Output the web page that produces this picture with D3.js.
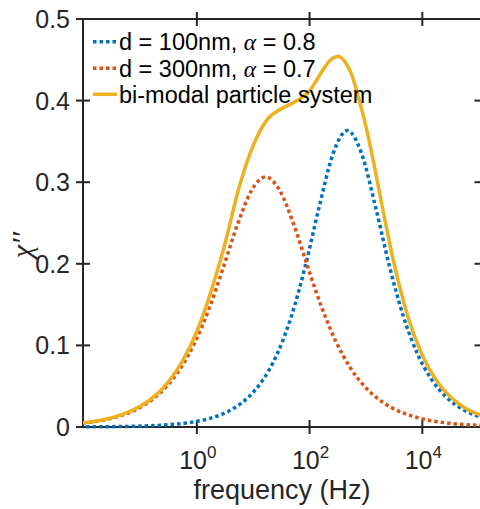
<!DOCTYPE html>
<html>
<head>
<meta charset="utf-8">
<script src="https://cdn.jsdelivr.net/npm/d3@7"></script>
<style>
  html, body { margin: 0; padding: 0; background: #fff; }
  svg { display: block; }
</style>
</head>
<body>
<svg id="chart" width="480" height="509"></svg>
<script>
// ---- data (log10 of frequency in Hz, and chi'') ----
const blueLogF = [-2.08,-1.83,-1.58,-1.33,-1.08,-0.83,-0.58,-0.33,-0.08,0.17,0.42,0.67,0.92,1.17,1.42,1.67,1.92,2.17,2.42,2.67,2.92,3.17,3.42,3.67,3.92,4.17,4.42,4.67,4.92,5.17];
const blueChi  = [0.00015,0.00024,0.00038,0.0006,0.00095,0.0015,0.0024,0.0038,0.006,0.0095,0.0149,0.0235,0.0369,0.0575,0.0887,0.1342,0.1961,0.2696,0.3356,0.3633,0.3356,0.2696,0.1961,0.1342,0.0887,0.0575,0.0369,0.0235,0.0149,0.0095];

const redLogF = [-2.03,-1.78,-1.53,-1.28,-1.03,-0.78,-0.53,-0.28,-0.03,0.22,0.47,0.72,0.97,1.22,1.47,1.72,1.97,2.22,2.47,2.72,2.97,3.22,3.47,3.72,3.97,4.22,4.47,4.72,4.97,5.22];
const redChi  = [0.0047,0.007,0.0105,0.0156,0.0231,0.0342,0.0502,0.0729,0.1043,0.1456,0.1956,0.248,0.29,0.3064,0.29,0.248,0.1956,0.1456,0.1043,0.0729,0.0502,0.0342,0.0231,0.0156,0.0105,0.007,0.0047,0.0032,0.0021,0.0014];

const goldLogF = [-2.03,-1.75,-1.5,-1.25,-1.0,-0.75,-0.5,-0.25,0,0.25,0.5,0.75,1.0,1.25,1.5,1.75,2.0,2.125,2.25,2.375,2.5,2.625,2.75,2.875,3.0,3.125,3.25,3.5,3.75,4.0,4.25,4.5,4.75,5.0,5.05];
const goldChi  = [0.005,0.0077,0.0115,0.0172,0.0256,0.0378,0.0558,0.0815,0.117,0.166,0.225,0.294,0.345,0.377,0.39,0.399,0.412,0.425,0.439,0.45,0.454,0.448,0.431,0.402,0.368,0.328,0.284,0.2,0.134,0.088,0.057,0.0367,0.0236,0.0155,0.0143];

const legendLabels = [
  {pre: "d = 100nm, ", post: " = 0.8"},
  {pre: "d = 300nm, ", post: " = 0.7"},
  {pre: "bi-modal particle system", post: null}
];
const xTickExps = [0, 2, 4];
const yTicks = [0, 0.1, 0.2, 0.3, 0.4, 0.5];

// ---- layout ----
const L = 83, R = 481.5, T = 19, B = 427;
const axisColor = "#262626";
const font = "'Liberation Sans', Arial, Helvetica, sans-serif";
const colors = ["#0072BD", "#D95319", "#EDB120"];

const svg = d3.select("#chart");
const x = d3.scaleLog().domain([Math.pow(10, -2.02), Math.pow(10, 5.05)]).range([L, R]);
const y = d3.scaleLinear().domain([0, 0.5]).range([B, T]);

// axes box
const ax = svg.append("g");
ax.append("rect").attr("x", L).attr("y", T).attr("width", R - L).attr("height", B - T)
  .attr("fill", "none").attr("stroke", axisColor).attr("stroke-width", 2);

const tl = 7;
// y ticks left and right
yTicks.forEach(v => {
  const yy = y(v);
  ax.append("line").attr("x1", L - tl).attr("x2", L + tl).attr("y1", yy).attr("y2", yy)
    .attr("stroke", axisColor).attr("stroke-width", 2);
  ax.append("line").attr("x1", R - tl).attr("x2", R + tl).attr("y1", yy).attr("y2", yy)
    .attr("stroke", axisColor).attr("stroke-width", 2);
  ax.append("text").attr("x", 70).attr("y", yy).attr("dy", "0.36em")
    .attr("text-anchor", "end").attr("font-family", font).attr("font-size", 25)
    .attr("fill", axisColor).text(d3.format("")(v));
});
// x ticks bottom and top
xTickExps.forEach(e => {
  const xx = x(Math.pow(10, e));
  ax.append("line").attr("x1", xx).attr("x2", xx).attr("y1", B - tl).attr("y2", B + tl)
    .attr("stroke", axisColor).attr("stroke-width", 2);
  ax.append("line").attr("x1", xx).attr("x2", xx).attr("y1", T - tl).attr("y2", T + tl)
    .attr("stroke", axisColor).attr("stroke-width", 2);
  const t = ax.append("text").attr("x", xx + 1).attr("y", 469)
    .attr("text-anchor", "middle").attr("font-family", font).attr("font-size", 25)
    .attr("fill", axisColor);
  t.append("tspan").text("10");
  t.append("tspan").attr("dy", -11).attr("font-size", 17).text(String(e));
});

// axis labels
svg.append("text").attr("x", 282).attr("y", 499).attr("text-anchor", "middle")
  .attr("font-family", font).attr("font-size", 27).attr("fill", axisColor)
  .text("frequency (Hz)");
svg.append("text").attr("transform", "translate(32,245) rotate(-90)")
  .attr("text-anchor", "middle").attr("font-family", "'Liberation Serif', 'Times New Roman', serif")
  .attr("font-style", "italic").attr("font-size", 30).attr("fill", axisColor)
  .text("\u03C7\u2032\u2032");

// clip
svg.append("defs").append("clipPath").attr("id", "clip")
  .append("rect").attr("x", L).attr("y", T - 5).attr("width", R - L).attr("height", B - T + 10);

const line = d3.line().x(d => x(Math.pow(10, d[0]))).y(d => y(d[1])).curve(d3.curveMonotoneX);
const series = [
  {lf: blueLogF, v: blueChi, color: colors[0], dash: "3.5,3"},
  {lf: redLogF, v: redChi, color: colors[1], dash: "3.5,3"},
  {lf: goldLogF, v: goldChi, color: colors[2], dash: null}
];
const plot = svg.append("g").attr("clip-path", "url(#clip)");
series.forEach(s => {
  const pts = s.lf.map((f, i) => [f, s.v[i]]);
  const p = plot.append("path").attr("d", line(pts)).attr("fill", "none")
    .attr("stroke", s.color).attr("stroke-width", 3.5);
  if (s.dash) p.attr("stroke-dasharray", s.dash);
});

// legend
const legRows = [41.7, 68.3, 94.3];
legendLabels.forEach((lab, i) => {
  const s = series[i];
  const ly = legRows[i];
  const l = svg.append("line").attr("x1", 93).attr("x2", 117).attr("y1", ly).attr("y2", ly)
    .attr("stroke", s.color).attr("stroke-width", 3.5);
  if (s.dash) l.attr("stroke-dasharray", s.dash);
  const t = svg.append("text").attr("x", 119).attr("y", ly).attr("dy", "0.36em")
    .attr("font-family", font).attr("font-size", 23.5).attr("fill", "#000");
  t.append("tspan").text(lab.pre);
  if (lab.post !== null) {
    t.append("tspan").attr("font-family", "'Liberation Serif', 'Times New Roman', serif")
      .attr("font-style", "italic").text("\u03B1");
    t.append("tspan").text(lab.post);
  }
});
</script>
</body>
</html>
